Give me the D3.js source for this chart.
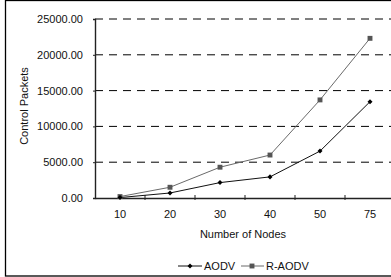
<!DOCTYPE html>
<html><head><meta charset="utf-8">
<script src="https://cdn.jsdelivr.net/npm/d3@7"></script>
<style>body{margin:0;background:#fff}svg{display:block;font-family:"Liberation Sans",Arial,sans-serif}</style>
</head><body>
<svg id="c" width="391" height="277"></svg>
<script>
const categories = ["10","20","30","40","50","75"];
const aodv = [60, 700, 2150, 2950, 6550, 13450];
const raodv = [200, 1500, 4300, 6000, 13700, 22300];
const yTicks = [0, 5000, 10000, 15000, 20000, 25000];

const svg = d3.select("#c");
const pL = 95, pR = 395, pT = 19, pB = 198;

svg.append("rect").attr("x",5.5).attr("y",0.5).attr("width",400).attr("height",275.5)
  .attr("fill","#fff").attr("stroke","#000").attr("stroke-width",1.3);

const x = d3.scaleBand().domain(categories).range([pL,pR]);
const y = d3.scaleLinear().domain([0,25000]).range([pB,pT]);

// gridlines
svg.append("g").selectAll("line").data(yTicks.filter(d=>d>0)).join("line")
  .attr("x1",pL).attr("x2",pR).attr("y1",d=>y(d)).attr("y2",d=>y(d))
  .attr("stroke","#000").attr("stroke-width",1).attr("stroke-dasharray","8,6");

// y axis
const ya = svg.append("g").attr("transform",`translate(${pL},0)`)
  .call(d3.axisLeft(y).tickValues(yTicks).tickFormat(d3.format(".2f")).tickSize(2).tickPadding(10));
ya.select(".domain").attr("stroke","#222").attr("stroke-width",1.4);
ya.selectAll(".tick line").attr("stroke","#222");
ya.selectAll("text").attr("font-size",11).attr("fill","#111").attr("font-family","Liberation Sans, Arial, sans-serif");

// x axis
const xa = svg.append("g").attr("transform",`translate(0,${pB})`)
  .call(d3.axisBottom(x).tickSize(0).tickPadding(12));
xa.select(".domain").attr("stroke","#222").attr("stroke-width",1.6);
xa.selectAll("text").attr("font-size",11).attr("fill","#111").attr("font-family","Liberation Sans, Arial, sans-serif");
// category boundary ticks
svg.append("g").selectAll("line").data(categories.slice(1)).join("line")
  .attr("x1",d=>x(d)).attr("x2",d=>x(d)).attr("y1",pB-3).attr("y2",pB+2)
  .attr("stroke","#222").attr("stroke-width",1);

const cx = d => x(d) + x.bandwidth()/2;
const line = d3.line().x((d,i)=>cx(categories[i])).y(d=>y(d));

svg.append("path").datum(raodv).attr("d",line).attr("fill","none").attr("stroke","#6a6a6a").attr("stroke-width",1);
svg.append("path").datum(aodv).attr("d",line).attr("fill","none").attr("stroke","#111").attr("stroke-width",1);

const sq = d3.symbol().type(d3.symbolSquare).size(24);
const di = d3.symbol().type(d3.symbolDiamond2 || d3.symbolDiamond).size(16);
svg.append("g").selectAll("path").data(raodv).join("path")
  .attr("d",sq).attr("transform",(d,i)=>`translate(${cx(categories[i])},${y(d)})`).attr("fill","#555");
svg.append("g").selectAll("path").data(aodv).join("path")
  .attr("d",di).attr("transform",(d,i)=>`translate(${cx(categories[i])},${y(d)})`).attr("fill","#000");

// axis titles
svg.append("text").attr("transform","translate(28,106) rotate(-90)").attr("text-anchor","middle")
  .attr("font-size",11).attr("fill","#111").text("Control Packets");
svg.append("text").attr("x",243).attr("y",238).attr("text-anchor","middle")
  .attr("font-size",11).attr("fill","#111").text("Number of Nodes");

// legend
const lg = svg.append("g");
lg.append("line").attr("x1",178).attr("x2",202).attr("y1",266).attr("y2",266).attr("stroke","#111");
lg.append("path").attr("d",di).attr("transform","translate(190,266)").attr("fill","#000");
lg.append("text").attr("x",204).attr("y",270).attr("font-size",11).attr("fill","#111").text("AODV");
lg.append("line").attr("x1",241).attr("x2",264).attr("y1",266).attr("y2",266).attr("stroke","#6a6a6a");
lg.append("path").attr("d",sq).attr("transform","translate(252,266)").attr("fill","#555");
lg.append("text").attr("x",266).attr("y",270).attr("font-size",11).attr("fill","#111").text("R-AODV");
</script>
</body></html>
